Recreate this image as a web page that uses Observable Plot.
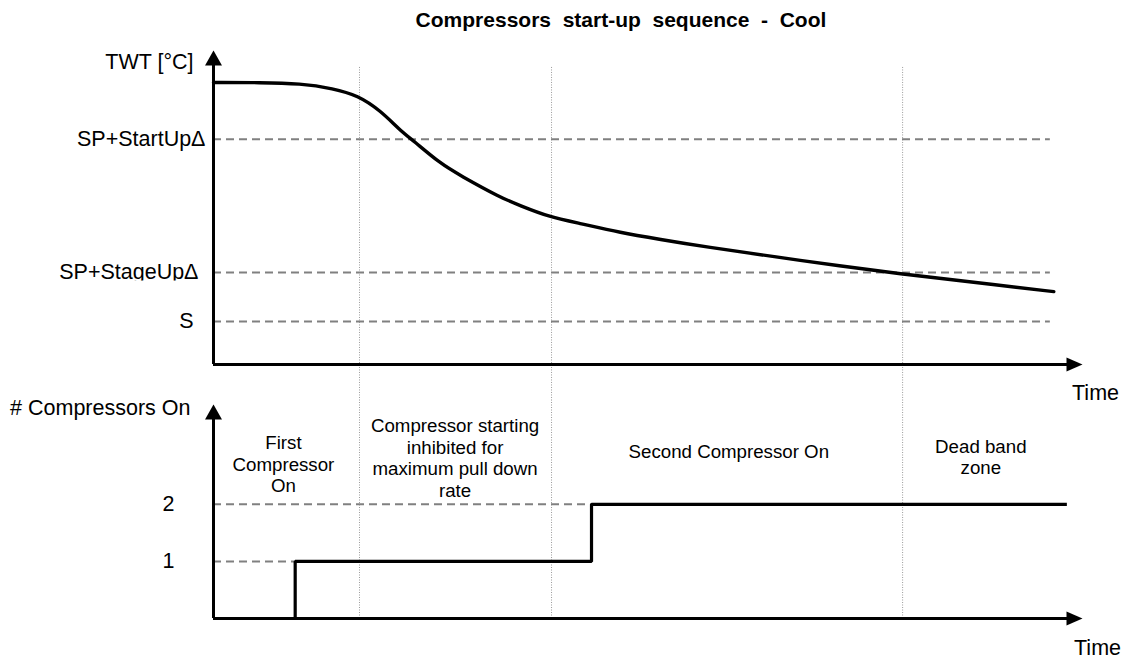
<!DOCTYPE html>
<html>
<head>
<meta charset="utf-8">
<script src="https://cdn.jsdelivr.net/npm/d3@7"></script>
<script src="https://cdn.jsdelivr.net/npm/@observablehq/plot@0.6"></script>
<style>
  body { margin: 0; background: #fff; font-family: "Liberation Sans", Arial, sans-serif; }
  #title { width: 1129px; height: 38px; line-height: 40px; box-sizing: border-box; padding-left: 113px;
           text-align: center; font-weight: bold; font-size: 21px; white-space: pre; color: #000; }
  svg { display: block; overflow: visible; }
</style>
</head>
<body>
<div id="title">Compressors  start-up  sequence  -  Cool</div>
<div id="top"></div>
<div id="bottom"></div>
<script>
// ---------- data ----------
const timeDomain = [0, 100];

// top panel (temperature, relative units)
const tempLevelLabels = ["SP+StartUpΔ", "SP+StageUpΔ", "S"];
const tempLevels = [71.7, 29.3, 13.7];
const tempTop = 100;
const curveTime = [0, 5.4, 10.0, 13.8, 16.6, 19.2, 21.5, 23.0, 26.1, 28.4, 33.0, 35.3, 38.5, 42.2, 46.8, 51.5, 56.0, 67.5, 79.1, 90.6, 96.7];
const curveTemp = [89.8, 89.8, 89.5, 87.9, 85.7, 80.9, 74.5, 71.3, 64.0, 60.2, 53.2, 50.6, 47.1, 44.9, 42.0, 39.8, 37.7, 33.1, 28.8, 25.2, 23.2];
const levelLineEnd = 96.3;

// phase boundaries (time)
const phaseBounds = [16.8, 38.9, 79.3];

// bottom panel (# compressors)
const stepTime = [0, 9.4, 43.5, 98.2];
const stepCount = [0, 1, 2, 2];
const countTicks = [1, 2];
const countTop = 3.75;

const phaseLabels = ["First\nCompressor\nOn", "Compressor starting\ninhibited for\nmaximum pull down\nrate", "Second Compressor On", "Dead band\nzone"];
const phaseCenters = [8.05, 27.8, 59.3, 88.3];
const phaseLabelY = [2.71, 2.82, 2.94, 2.84];

// ---------- styles ----------
const FONT = "'Liberation Sans', Arial, sans-serif";
const LABEL = 21.5;
const NOTE = 18.7;
const dotted = {stroke: "#9a9a9a", strokeWidth: 1, strokeDasharray: "1,1.5"};
const dashed = {stroke: "#808080", strokeWidth: 2, strokeDasharray: "8,5"};
const arrowUp = {draw(ctx) { ctx.moveTo(0, 0); ctx.lineTo(8.5, 15); ctx.lineTo(-8.5, 15); ctx.closePath(); }};
const arrowRight = {draw(ctx) { ctx.moveTo(0, 0); ctx.lineTo(-16, 7); ctx.lineTo(-16, -7); ctx.closePath(); }};
const tickDx = [-8, -15, -20];

const curve = curveTime.map((t, i) => ({t, v: curveTemp[i]}));
const steps = stepTime.map((t, i) => ({t, n: stepCount[i]}));
const levels = tempLevels.map((v, i) => ({v, label: tempLevelLabels[i]}));
const phases = phaseLabels.map((label, i) => ({label, t: phaseCenters[i], y: phaseLabelY[i]}));

const topPlot = Plot.plot({
  width: 1129, height: 362,
  marginLeft: 213, marginRight: 47, marginTop: 12, marginBottom: 36,
  x: {domain: timeDomain, axis: null},
  y: {domain: [0, tempTop], axis: null},
  style: {fontFamily: FONT, background: "white", overflow: "visible"},
  marks: [
    Plot.ruleX(phaseBounds, {x: d => d, y1: 94.6, y2: -11.5, ...dotted}),
    Plot.ruleY(tempLevels, {y: d => d, x1: 0, x2: levelLineEnd, ...dashed}),
    Plot.line(curve, {x: "t", y: "v", curve: "basis", stroke: "black", strokeWidth: 3.4}),
    Plot.ruleX([0], {y1: 0, y2: tempTop - 4, stroke: "black", strokeWidth: 3}),
    Plot.ruleY([0], {x1: 0, x2: timeDomain[1] - 1.5, stroke: "black", strokeWidth: 3}),
    Plot.dot([0], {x: 0, y: tempTop, symbol: arrowUp, fill: "black", stroke: "none"}),
    Plot.dot([0], {x: timeDomain[1], y: 0, symbol: arrowRight, fill: "black", stroke: "none"}),
    ...levels.map((d, i) => Plot.text([d], {x: 0, y: "v", text: "label", dx: tickDx[i], textAnchor: "end", fontSize: LABEL, fill: "black"})),
    Plot.text(["TWT [°C]"], {x: 0, y: tempTop, dx: -20, dy: 12, textAnchor: "end", fontSize: LABEL, fill: "black"}),
    Plot.text(["Time"], {x: timeDomain[1], y: 0, dx: 13, dy: 29, textAnchor: "middle", fontSize: LABEL, fill: "black"})
  ]
});
document.getElementById("top").append(topPlot);

// the reference cuts off the descenders of the "SP+StageUpΔ" label
(function clipStageLabel() {
  const y = topPlot.scale("y");
  const cutY = y.apply(tempLevels[1]) + 8.5;
  const svg = d3.select(topPlot);
  svg.append("defs").append("clipPath").attr("id", "stageclip")
    .append("rect").attr("x", -50).attr("y", -50).attr("width", 1200).attr("height", cutY + 50);
  svg.selectAll("text")
    .filter(function() { return this.textContent === tempLevelLabels[1]; })
    .each(function() {
      const g = this.parentNode;
      const wrap = document.createElementNS("http://www.w3.org/2000/svg", "g");
      wrap.setAttribute("clip-path", "url(#stageclip)");
      g.parentNode.insertBefore(wrap, g);
      wrap.appendChild(g);
    });
})();

const bottomPlot = Plot.plot({
  width: 1129, height: 259,
  marginLeft: 213, marginRight: 47, marginTop: 4, marginBottom: 41,
  x: {domain: timeDomain, axis: null},
  y: {domain: [0, countTop], axis: null},
  style: {fontFamily: FONT, background: "white", overflow: "visible"},
  marks: [
    Plot.ruleX(phaseBounds, {x: d => d, y1: 0, y2: 3.82, ...dotted}),
    Plot.ruleY([countTicks[0]], {y: d => d, x1: 0, x2: stepTime[1], ...dashed}),
    Plot.ruleY([countTicks[1]], {y: d => d, x1: 0, x2: stepTime[2], ...dashed}),
    Plot.line(steps, {x: "t", y: "n", curve: "step-after", stroke: "black", strokeWidth: 3.2, strokeLinejoin: "miter", strokeLinecap: "butt"}),
    Plot.ruleX([0], {y1: 0, y2: countTop - 0.1, stroke: "black", strokeWidth: 3}),
    Plot.ruleY([0], {x1: 0, x2: timeDomain[1] - 1.5, stroke: "black", strokeWidth: 3}),
    Plot.dot([0], {x: 0, y: countTop, symbol: arrowUp, fill: "black", stroke: "none"}),
    Plot.dot([0], {x: timeDomain[1], y: 0, symbol: arrowRight, fill: "black", stroke: "none"}),
    Plot.text(countTicks, {x: 0, y: d => d, text: d => String(d), dx: -45, textAnchor: "middle", fontSize: LABEL, fill: "black"}),
    Plot.text(["# Compressors On"], {x: 0, y: countTop, dx: -23, dy: 4, textAnchor: "end", fontSize: LABEL, fill: "black"}),
    Plot.text(phases, {x: "t", y: "y", text: "label", textAnchor: "middle", lineAnchor: "middle", lineHeight: 1.15, fontSize: NOTE, fill: "black"}),
    Plot.text(["Time"], {x: timeDomain[1], y: 0, dx: 15, dy: 30, textAnchor: "middle", fontSize: LABEL, fill: "black"})
  ]
});
document.getElementById("bottom").append(bottomPlot);
</script>
</body>
</html>
